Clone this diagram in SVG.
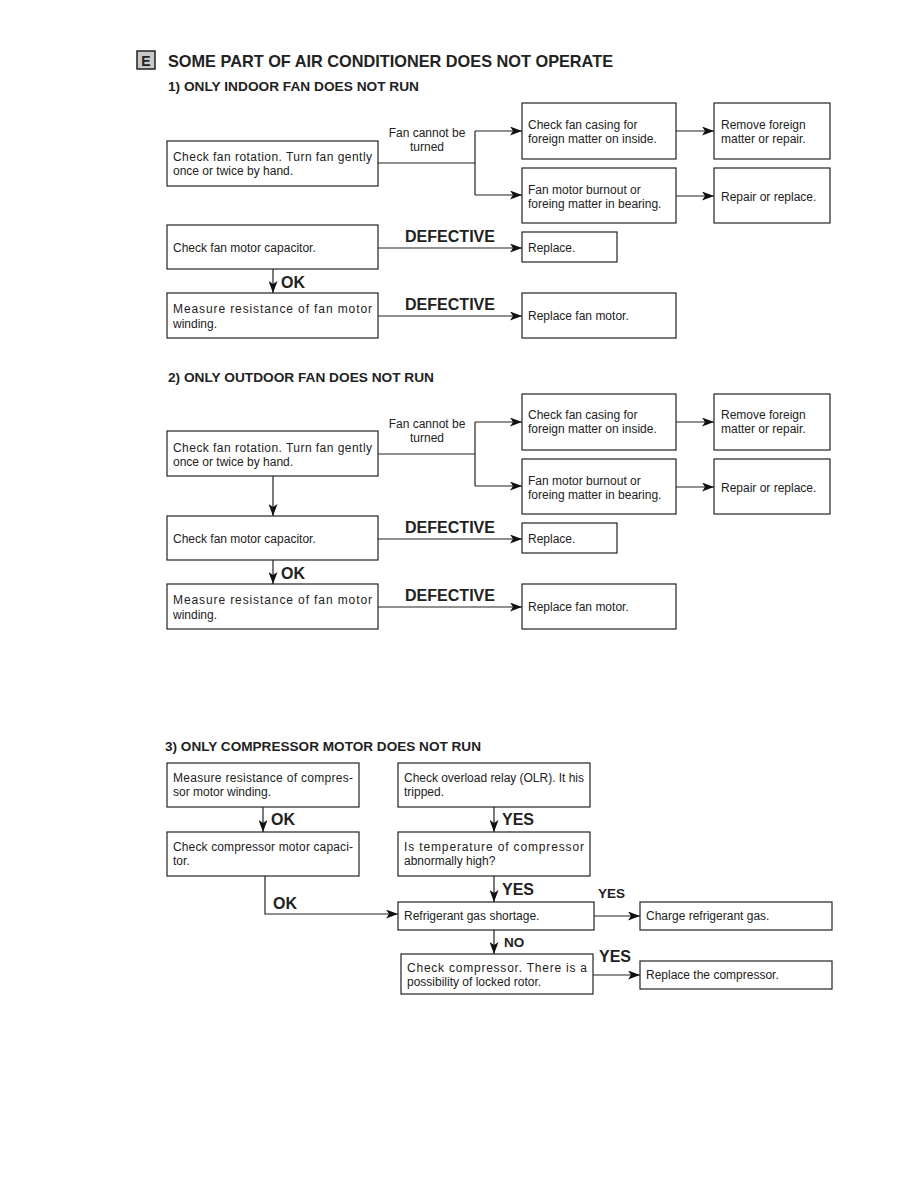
<svg xmlns="http://www.w3.org/2000/svg" width="918" height="1188" viewBox="0 0 918 1188">
<style>
.box{fill:#fff;stroke:#222;stroke-width:1.2}
.ln{fill:none;stroke:#222;stroke-width:1.2}
.t{font-family:"Liberation Sans",Arial,sans-serif;font-size:12px;fill:#222}
.b{font-family:"Liberation Sans",Arial,sans-serif;font-weight:bold;fill:#222}
.lbl{font-size:16px}
.sm{font-size:13.5px}
</style>
<defs>
<marker id="ah" markerWidth="13" markerHeight="9" refX="12" refY="4.5" orient="auto" markerUnits="userSpaceOnUse">
<path d="M0,0 L12,4.5 L0,9 L3,4.5 Z" fill="#111"/>
</marker>
</defs>
<rect width="918" height="1188" fill="#fff"/>

<g id="title">
<rect x="137" y="51" width="18" height="18" fill="#c8c8c8" stroke="#222" stroke-width="1.5"/>
<text x="146" y="66" text-anchor="middle" class="b" font-size="14">E</text>
<text x="168" y="67" class="b" font-size="17" textLength="445" lengthAdjust="spacingAndGlyphs">SOME PART OF AIR CONDITIONER DOES NOT OPERATE</text>
<text x="168" y="91" class="b" font-size="13.5" textLength="251" lengthAdjust="spacingAndGlyphs">1) ONLY INDOOR FAN DOES NOT RUN</text>
<text x="168" y="382" class="b" font-size="13.5" textLength="266" lengthAdjust="spacingAndGlyphs">2) ONLY OUTDOOR FAN DOES NOT RUN</text>
<text x="165" y="751" class="b" font-size="13.5" textLength="316" lengthAdjust="spacingAndGlyphs">3) ONLY COMPRESSOR MOTOR DOES NOT RUN</text>
</g>

<!-- Section 1 -->
<g id="s1_rotation"><rect class="box" x="167" y="141" width="211" height="45"/>
<text class="t" x="173" y="161" textLength="199">Check fan rotation. Turn fan gently</text>
<text class="t" x="173" y="175">once or twice by hand.</text></g>
<g id="s1_casing"><rect class="box" x="522" y="103" width="154" height="56"/>
<text class="t" x="528" y="129">Check fan casing for</text>
<text class="t" x="528" y="143">foreign matter on inside.</text></g>
<g id="s1_remove"><rect class="box" x="714" y="103" width="116" height="56"/>
<text class="t" x="721" y="129">Remove foreign</text>
<text class="t" x="721" y="143">matter or repair.</text></g>
<g id="s1_burnout"><rect class="box" x="522" y="168" width="154" height="55"/>
<text class="t" x="528" y="194">Fan motor burnout or</text>
<text class="t" x="528" y="208">foreing matter in bearing.</text></g>
<g id="s1_repair"><rect class="box" x="714" y="168" width="116" height="55"/>
<text class="t" x="721" y="201">Repair or replace.</text></g>
<g id="s1_capacitor"><rect class="box" x="167" y="225" width="211" height="44"/>
<text class="t" x="173" y="252">Check fan motor capacitor.</text></g>
<g id="s1_replace"><rect class="box" x="522" y="232" width="95" height="30"/>
<text class="t" x="528" y="252">Replace.</text></g>
<g id="s1_winding"><rect class="box" x="167" y="293" width="211" height="45"/>
<text class="t" x="173" y="313" textLength="199">Measure resistance of fan motor</text>
<text class="t" x="173" y="328">winding.</text></g>
<g id="s1_replacemotor"><rect class="box" x="522" y="293" width="154" height="45"/>
<text class="t" x="528" y="320">Replace fan motor.</text></g>

<!-- Section 2 -->
<g id="s2_rotation"><rect class="box" x="167" y="431" width="211" height="45"/>
<text class="t" x="173" y="452" textLength="199">Check fan rotation. Turn fan gently</text>
<text class="t" x="173" y="466">once or twice by hand.</text></g>
<g id="s2_casing"><rect class="box" x="522" y="394" width="154" height="56"/>
<text class="t" x="528" y="419">Check fan casing for</text>
<text class="t" x="528" y="433">foreign matter on inside.</text></g>
<g id="s2_remove"><rect class="box" x="714" y="394" width="116" height="56"/>
<text class="t" x="721" y="419">Remove foreign</text>
<text class="t" x="721" y="433">matter or repair.</text></g>
<g id="s2_burnout"><rect class="box" x="522" y="459" width="154" height="55"/>
<text class="t" x="528" y="485">Fan motor burnout or</text>
<text class="t" x="528" y="499">foreing matter in bearing.</text></g>
<g id="s2_repair"><rect class="box" x="714" y="459" width="116" height="55"/>
<text class="t" x="721" y="492">Repair or replace.</text></g>
<g id="s2_capacitor"><rect class="box" x="167" y="516" width="211" height="44"/>
<text class="t" x="173" y="543">Check fan motor capacitor.</text></g>
<g id="s2_replace"><rect class="box" x="522" y="523" width="95" height="30"/>
<text class="t" x="528" y="543">Replace.</text></g>
<g id="s2_winding"><rect class="box" x="167" y="584" width="211" height="45"/>
<text class="t" x="173" y="604" textLength="199">Measure resistance of fan motor</text>
<text class="t" x="173" y="619">winding.</text></g>
<g id="s2_replacemotor"><rect class="box" x="522" y="584" width="154" height="45"/>
<text class="t" x="528" y="611">Replace fan motor.</text></g>

<!-- Section 3 -->
<g id="s3_resistance"><rect class="box" x="167" y="763" width="192" height="44"/>
<text class="t" x="173" y="782" textLength="180">Measure resistance of compres-</text>
<text class="t" x="173" y="796">sor motor winding.</text></g>
<g id="s3_capacitor"><rect class="box" x="167" y="832" width="192" height="44"/>
<text class="t" x="173" y="851" textLength="180">Check compressor motor capaci-</text>
<text class="t" x="173" y="865">tor.</text></g>
<g id="s3_olr"><rect class="box" x="398" y="763" width="192" height="44"/>
<text class="t" x="404" y="782" textLength="180">Check overload relay (OLR). It his</text>
<text class="t" x="404" y="796">tripped.</text></g>
<g id="s3_temp"><rect class="box" x="398" y="832" width="192" height="44"/>
<text class="t" x="404" y="851" textLength="180">Is temperature of compressor</text>
<text class="t" x="404" y="865">abnormally high?</text></g>
<g id="s3_gas"><rect class="box" x="398" y="902" width="196" height="28"/>
<text class="t" x="404" y="920">Refrigerant gas shortage.</text></g>
<g id="s3_charge"><rect class="box" x="640" y="902" width="192" height="28"/>
<text class="t" x="646" y="920">Charge refrigerant gas.</text></g>
<g id="s3_compressor"><rect class="box" x="401" y="954" width="192" height="40"/>
<text class="t" x="407" y="972" textLength="180">Check compressor. There is a</text>
<text class="t" x="407" y="986">possibility of locked rotor.</text></g>
<g id="s3_replacecomp"><rect class="box" x="640" y="961" width="192" height="28"/>
<text class="t" x="646" y="979">Replace the compressor.</text></g>

<g id="connectors">
<!-- section 1 -->
<path class="ln" d="M378,163 H475"/>
<path class="ln" d="M475,131 V195"/>
<path class="ln" d="M475,131 H522" marker-end="url(#ah)"/>
<path class="ln" d="M475,195 H522" marker-end="url(#ah)"/>
<path class="ln" d="M676,131 H714" marker-end="url(#ah)"/>
<path class="ln" d="M676,196 H714" marker-end="url(#ah)"/>
<path class="ln" d="M378,248 H522" marker-end="url(#ah)"/>
<path class="ln" d="M273,269 V293" marker-end="url(#ah)"/>
<path class="ln" d="M378,316 H522" marker-end="url(#ah)"/>
<!-- section 2 -->
<path class="ln" d="M378,454 H475"/>
<path class="ln" d="M475,422 V486"/>
<path class="ln" d="M475,422 H522" marker-end="url(#ah)"/>
<path class="ln" d="M475,486 H522" marker-end="url(#ah)"/>
<path class="ln" d="M676,422 H714" marker-end="url(#ah)"/>
<path class="ln" d="M676,487 H714" marker-end="url(#ah)"/>
<path class="ln" d="M273,476 V516" marker-end="url(#ah)"/>
<path class="ln" d="M378,539 H522" marker-end="url(#ah)"/>
<path class="ln" d="M273,560 V584" marker-end="url(#ah)"/>
<path class="ln" d="M378,607 H522" marker-end="url(#ah)"/>
<!-- section 3 -->
<path class="ln" d="M263,807 V832" marker-end="url(#ah)"/>
<path class="ln" d="M265,876 V914 H398" marker-end="url(#ah)"/>
<path class="ln" d="M494,807 V832" marker-end="url(#ah)"/>
<path class="ln" d="M494,876 V902" marker-end="url(#ah)"/>
<path class="ln" d="M594,916 H640" marker-end="url(#ah)"/>
<path class="ln" d="M494,930 V954" marker-end="url(#ah)"/>
<path class="ln" d="M593,975 H640" marker-end="url(#ah)"/>
<!-- labels -->
<text class="t" x="427" y="137" text-anchor="middle">Fan cannot be</text>
<text class="t" x="427" y="151" text-anchor="middle">turned</text>
<text class="b lbl" x="405" y="242" textLength="90" lengthAdjust="spacingAndGlyphs">DEFECTIVE</text>
<text class="b lbl" x="281" y="288">OK</text>
<text class="b lbl" x="405" y="310" textLength="90" lengthAdjust="spacingAndGlyphs">DEFECTIVE</text>
<text class="t" x="427" y="428" text-anchor="middle">Fan cannot be</text>
<text class="t" x="427" y="442" text-anchor="middle">turned</text>
<text class="b lbl" x="405" y="533" textLength="90" lengthAdjust="spacingAndGlyphs">DEFECTIVE</text>
<text class="b lbl" x="281" y="579">OK</text>
<text class="b lbl" x="405" y="601" textLength="90" lengthAdjust="spacingAndGlyphs">DEFECTIVE</text>
<text class="b lbl" x="271" y="825">OK</text>
<text class="b lbl" x="273" y="909">OK</text>
<text class="b lbl" x="502" y="825">YES</text>
<text class="b lbl" x="502" y="895">YES</text>
<text class="b sm" x="598" y="898">YES</text>
<text class="b sm" x="504" y="947">NO</text>
<text class="b lbl" x="599" y="962">YES</text>
</g>
</svg>
